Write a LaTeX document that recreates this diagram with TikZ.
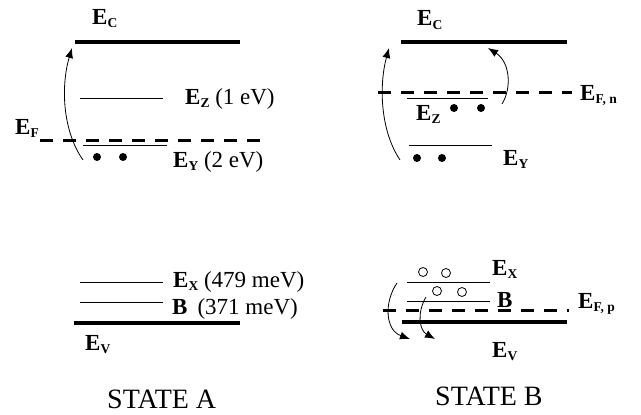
\documentclass[tikz,border=0pt]{standalone}
\usepackage{fontspec}
\setmainfont{Liberation Serif}
\usetikzlibrary{arrows.meta}
\newcommand{\En}[1]{\textbf{E}\raisebox{-0.3ex}{\fontsize{13.5}{14}\selectfont\bfseries #1}}

\begin{document}
\begin{tikzpicture}[x=1pt,y=-1pt,
  band/.style={line width=3.5pt},
  lvl/.style={line width=0.9pt},
  fermi/.style={line width=3pt,dash pattern=on 13pt off 10pt},
  hop/.style={-{Latex[length=10pt,width=8pt]},line width=0.8pt},
  lab/.style={anchor=base west,inner sep=0pt,font=\fontsize{23}{25}\selectfont},
  title/.style={anchor=base west,inner sep=0pt,font=\fontsize{28}{30}\selectfont}]
  \useasboundingbox (0,0) rectangle (641,415);
  % state A
  \coordinate (AC1) at (75,42); \coordinate (AC2) at (240,42);
  \coordinate (AZ1) at (80,98); \coordinate (AZ2) at (163,98);
  \coordinate (AF1) at (40,140); \coordinate (AF2) at (270,140);
  \coordinate (AY1) at (83,145); \coordinate (AY2) at (167,145);
  \coordinate (AX1) at (80,282); \coordinate (AX2) at (163,282);
  \coordinate (AB1) at (80,302); \coordinate (AB2) at (163,302);
  \coordinate (AV1) at (74,323); \coordinate (AV2) at (240,323);
  \draw[band] (AC1)--(AC2) (AV1)--(AV2);
  \draw[lvl] (AZ1)--(AZ2) (AY1)--(AY2) (AX1)--(AX2) (AB1)--(AB2);
  \draw[fermi] (AF1)--(AF2);
  \foreach \x in {97,123}\fill (\x,157) circle(4pt);
  \coordinate (Aup0) at (83,160); \coordinate (Aup1) at (72,48);
  \draw[hop] (Aup0) .. controls (62,130) and (61,85) .. (Aup1);
  \node[lab] (lAC) at (92,24) {\En{C}};
  \node[lab] (lAZ) at (185,104) {\En{Z} \mdseries (1 eV)};
  \node[lab] (lAF) at (15,134) {\En{F}};
  \node[lab] (lAY) at (173,167) {\En{Y} \mdseries (2 eV)};
  \node[lab] (lAX) at (173,287) {\En{X} \mdseries (479 meV)};
  \node[lab] (lAB) at (172,314) {\textbf{B}\hspace{10pt}\mdseries (371 meV)};
  \node[lab] (lAV) at (85,350) {\En{V}};
  \node[title] (stA) at (107,408) {STATE A};
  % state B
  \coordinate (BC1) at (401,42); \coordinate (BC2) at (567,42);
  \coordinate (BN1) at (378,92); \coordinate (BN2) at (572,92);
  \coordinate (BZ1) at (407,98); \coordinate (BZ2) at (488,98);
  \coordinate (BY1) at (409,145); \coordinate (BY2) at (492,145);
  \coordinate (BX1) at (407,282); \coordinate (BX2) at (490,282);
  \coordinate (BB1) at (407,301); \coordinate (BB2) at (490,301);
  \coordinate (BP1) at (383,310); \coordinate (BP2) at (569,310);
  \coordinate (BV1) at (402,322); \coordinate (BV2) at (567,322);
  \draw[band] (BC1)--(BC2) (BV1)--(BV2);
  \draw[lvl] (BZ1)--(BZ2) (BY1)--(BY2) (BX1)--(BX2) (BB1)--(BB2);
  \draw[fermi] (BN1)--(BN2) (BP1)--(BP2);
  \foreach \x/\y in {454/108,481/108,417/158,442/158}\fill (\x,\y) circle(4pt);
  \foreach \x/\y in {423/272,446/273,437/291,462/292}\draw[line width=0.8pt] (\x,\y) circle(4.5pt);
  \coordinate (Bup0) at (400,160); \coordinate (Bup1) at (389,48);
  \coordinate (Bzc0) at (502,104); \coordinate (Bzc1) at (488,48);
  \coordinate (Bdn0) at (397,283); \coordinate (Bdn1) at (410,339);
  \coordinate (Bbv0) at (426,297); \coordinate (Bbv1) at (435,339);
  \draw[hop] (Bup0) .. controls (380,130) and (379,85) .. (Bup1);
  \draw[hop] (Bzc0) .. controls (512,88) and (510,62) .. (Bzc1);
  \draw[hop] (Bdn0) .. controls (384,302) and (385,330) .. (Bdn1);
  \draw[hop] (Bbv0) .. controls (417,312) and (419,330) .. (Bbv1);
  \node[lab] (lBC) at (417,26) {\En{C}};
  \node[lab] (lBN) at (580,100) {\En{F, n}};
  \node[lab] (lBZ) at (416,120) {\En{Z}};
  \node[lab] (lBY) at (503,165) {\En{Y}};
  \node[lab] (lBX) at (492,275) {\En{X}};
  \node[lab] (lBB) at (497,307) {\textbf{B}};
  \node[lab] (lBP) at (578,308) {\En{F, p}};
  \node[lab] (lBV) at (492,357) {\En{V}};
  \node[title] (stB) at (435,405) {STATE B};
\end{tikzpicture}
\end{document}
